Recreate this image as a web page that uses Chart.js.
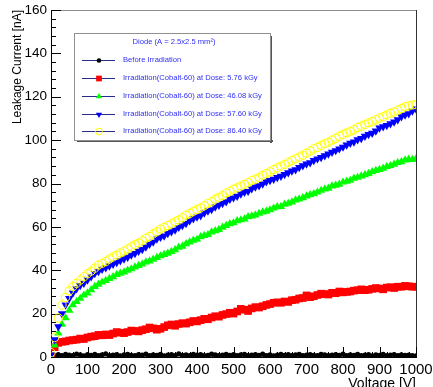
<!DOCTYPE html>
<html>
<head>
<meta charset="utf-8">
<script src="https://cdn.jsdelivr.net/npm/chart.js@4/dist/chart.umd.min.js"></script>
<style>
  html, body { margin: 0; padding: 0; background: #ffffff; }
  canvas { display: block; }
</style>
</head>
<body>
<canvas id="c" width="433" height="387"></canvas>
<script>
// Bias voltage [V]
const voltage = [
  0, 10, 20, 30, 40, 50, 60, 70, 80, 90,
  100, 110, 120, 130, 140, 150, 160, 170, 180, 190,
  200, 210, 220, 230, 240, 250, 260, 270, 280, 290,
  300, 310, 320, 330, 340, 350, 360, 370, 380, 390,
  400, 410, 420, 430, 440, 450, 460, 470, 480, 490,
  500, 510, 520, 530, 540, 550, 560, 570, 580, 590,
  600, 610, 620, 630, 640, 650, 660, 670, 680, 690,
  700, 710, 720, 730, 740, 750, 760, 770, 780, 790,
  800, 810, 820, 830, 840, 850, 860, 870, 880, 890,
  900, 910, 920, 930, 940, 950, 960, 970, 980, 990,
  1000
];

// Leakage current [nA] before irradiation
const currentBefore = [
  0.2, 0.8, 1.1, 0.6, 1.2, 0.9, 0.7, 1.3, 1.0, 0.5,
  1.1, 0.8, 1.2, 0.6, 1.0, 1.4, 0.7, 0.9, 1.1, 0.5,
  1.0, 1.2, 0.8, 0.6, 1.1, 0.9, 1.3, 0.7, 1.0, 0.8,
  1.2, 0.5, 0.9, 1.1, 0.7, 1.4, 0.8, 1.0, 0.6, 1.2,
  0.9, 1.1, 0.7, 0.8, 1.3, 1.0, 0.6, 0.9, 1.2, 0.8,
  1.1, 0.7, 1.0, 1.2, 0.6, 0.9, 1.1, 0.8, 1.3, 0.7,
  1.0, 0.5, 0.9, 1.2, 0.8, 1.1, 0.6, 1.0, 1.2, 0.7,
  0.9, 1.1, 0.8, 0.6, 1.2, 1.0, 0.7, 0.9, 1.1, 0.8,
  1.3, 0.6, 1.0, 0.8, 1.2, 0.7, 0.9, 1.1, 0.5, 1.0,
  0.8, 1.2, 0.7, 0.9, 1.1, 0.6, 1.0, 0.8, 0.9, 0.7,
  0.5
];

// Leakage current [nA] after 5.76 kGy
const currentDose576 = [
  0.3, 4.5, 6.5, 7.0, 7.2, 7.6, 7.8, 8.0, 8.5, 8.3,
  9.0, 9.4, 9.6, 10.2, 10.0, 10.4, 10.1, 10.8, 11.5, 11.2,
  11.0, 11.5, 12.2, 12.0, 11.8, 12.4, 12.8, 13.6, 13.2, 12.6,
  13.0, 13.8, 14.6, 15.0, 14.4, 15.2, 15.6, 15.4, 16.0, 16.6,
  16.4, 17.0, 17.6, 17.4, 18.2, 18.8, 18.6, 19.4, 19.8, 20.4,
  20.0, 21.0, 22.2, 21.8, 21.2, 22.4, 23.0, 22.8, 23.4, 24.0,
  24.4, 25.0, 25.2, 25.0, 25.6, 25.4, 26.2, 26.4, 27.0, 27.2,
  28.4, 27.6, 28.0, 28.6, 29.2, 29.0, 28.8, 29.6, 29.4, 30.2,
  29.8, 30.0, 30.2, 30.6, 30.8, 31.2, 30.8, 31.0, 31.4, 31.8,
  31.6, 31.2, 32.0, 32.2, 31.8, 32.4, 32.4, 32.8, 32.6, 32.4,
  32.4
];

// Leakage current [nA] after 46.08 kGy
const currentDose4608 = [
  0.5, 5.5, 11.0, 15.0, 18.0, 21.5, 24.0, 25.5, 27.0, 28.5,
  29.5, 31.0, 32.5, 33.5, 34.5, 35.2, 36.2, 37.0, 38.0, 38.6,
  39.2, 40.0, 40.6, 41.5, 42.2, 42.8, 43.8, 44.2, 45.0, 45.8,
  46.6, 47.2, 47.8, 48.6, 49.4, 50.6, 51.0, 52.2, 53.0, 53.8,
  54.2, 55.4, 56.0, 56.4, 57.6, 58.2, 58.8, 59.8, 60.6, 61.4,
  61.8, 62.8, 63.2, 63.6, 64.6, 65.0, 65.4, 66.2, 66.8, 67.2,
  67.8, 68.6, 69.2, 69.4, 70.4, 70.8, 71.4, 72.4, 72.8, 73.4,
  74.2, 74.8, 75.2, 76.0, 76.8, 77.4, 77.8, 78.8, 79.2, 79.6,
  80.6, 81.0, 81.4, 82.4, 82.8, 83.4, 84.0, 84.6, 85.4, 86.0,
  86.4, 87.0, 87.8, 88.2, 88.8, 89.6, 90.0, 90.8, 91.2, 91.0,
  91.4
];

// Leakage current [nA] after 57.60 kGy
const currentDose5760 = [
  1.0, 8.0, 14.0, 20.0, 24.0, 27.0, 29.5, 31.5, 33.0, 34.0,
  35.5, 37.0, 38.5, 39.5, 40.5, 41.2, 42.0, 42.8, 43.6, 44.4,
  45.2, 46.0, 47.0, 47.8, 48.8, 49.6, 50.8, 52.0, 53.0, 54.4,
  55.2, 55.8, 57.0, 57.8, 58.6, 59.8, 60.6, 61.6, 62.8, 63.8,
  64.6, 65.2, 66.4, 67.4, 68.0, 69.2, 70.0, 70.8, 71.6, 72.8,
  73.4, 74.2, 75.2, 76.0, 76.4, 77.6, 78.4, 79.0, 79.8, 80.8,
  81.4, 82.0, 82.8, 83.4, 84.2, 85.0, 85.8, 86.4, 87.4, 88.2,
  89.0, 89.6, 90.6, 91.4, 92.0, 92.8, 93.6, 94.4, 95.2, 96.0,
  96.8, 97.8, 98.6, 99.2, 100.2, 100.8, 101.8, 102.6, 103.2, 104.2,
  105.6, 106.2, 106.8, 107.6, 108.4, 109.4, 110.8, 111.6, 112.2, 113.4,
  114.4
];

// Leakage current [nA] after 86.40 kGy
const currentDose8640 = [
  2.0, 9.0, 18.0, 24.0, 27.5, 30.5, 32.5, 34.0, 35.5, 37.0,
  38.4, 39.6, 41.0, 42.4, 43.2, 44.0, 45.2, 46.2, 47.0, 48.0,
  48.8, 49.8, 50.8, 51.8, 52.6, 53.6, 54.8, 55.6, 56.8, 57.8,
  59.0, 59.8, 60.6, 61.4, 62.4, 63.2, 64.2, 65.4, 66.2, 67.2,
  68.0, 68.8, 69.8, 70.8, 71.6, 72.8, 73.6, 74.4, 75.6, 76.4,
  77.4, 78.0, 78.8, 79.6, 80.4, 81.4, 82.0, 82.8, 83.8, 84.6,
  85.4, 86.4, 87.2, 88.0, 88.8, 89.8, 90.6, 91.4, 92.2, 93.0,
  94.0, 95.0, 96.0, 96.6, 97.6, 98.4, 99.0, 100.0, 100.8, 101.8,
  102.6, 103.4, 104.0, 104.8, 105.8, 106.4, 107.2, 108.0, 108.6, 109.4,
  110.2, 110.8, 111.6, 112.4, 113.0, 113.8, 114.6, 115.4, 115.8, 116.2,
  116.4
];

const seriesLabels = [
  'Before Irradiation',
  'Irradiation(Cobalt-60) at Dose: 5.76 kGy',
  'Irradiation(Cobalt-60) at Dose: 46.08 kGy',
  'Irradiation(Cobalt-60) at Dose: 57.60 kGy',
  'Irradiation(Cobalt-60) at Dose: 86.40 kGy'
];
const legendTitle = 'Diode (A = 2.5x2.5 mm\u00B2)';
const xTickValues = [0, 100, 200, 300, 400, 500, 600, 700, 800, 900, 1000];
const yTickValues = [0, 20, 40, 60, 80, 100, 120, 140, 160];
const xTitle = 'Voltage [V]';
const yTitle = 'Leakage Current [nA]';

const FONT = '"Liberation Sans", Arial, Helvetica, sans-serif';
const LEGEND_TEXT = '#2f2ff5';

const toPoints = (ys) => voltage.map((v, i) => ({ x: v, y: ys[i] }));

const datasets = [
  { label: seriesLabels[0], data: toPoints(currentBefore), order: 5,
    pointStyle: 'circle', pointRadius: 2.6, pointBackgroundColor: '#000000',
    pointBorderColor: '#000000', pointBorderWidth: 0, legendScale: 0.9 },
  { label: seriesLabels[1], data: toPoints(currentDose576), order: 4,
    pointStyle: 'rect', pointRadius: 5.4, pointBackgroundColor: '#ff0000',
    pointBorderColor: '#ff0000', pointBorderWidth: 0, legendScale: 0.75 },
  { label: seriesLabels[2], data: toPoints(currentDose4608), order: 3,
    pointStyle: 'triangle', pointRadius: 4.8, pointBackgroundColor: '#00ff00',
    pointBorderColor: '#00ff00', pointBorderWidth: 0, legendScale: 0.75 },
  { label: seriesLabels[3], data: toPoints(currentDose5760), order: 2,
    pointStyle: 'triangle', pointRotation: 180, pointRadius: 4.8, pointBackgroundColor: '#0000ff',
    pointBorderColor: '#0000ff', pointBorderWidth: 0, legendScale: 0.75 },
  { label: seriesLabels[4], data: toPoints(currentDose8640), order: 1,
    pointStyle: 'circle', pointRadius: 4.2, pointBackgroundColor: 'rgba(0,0,0,0)',
    pointBorderColor: '#ffff00', pointBorderWidth: 1, legendScale: 0.8 }
];

// Frame, axis lines, inward tick marks, axis titles and the boxed legend
const axesPlugin = {
  id: 'axesPlugin',
  beforeDatasetsDraw(chart) {
    const { ctx, chartArea: a, scales: { x, y } } = chart;
    ctx.save();
    ctx.lineWidth = 1;
    ctx.strokeStyle = '#8c8c8c';
    ctx.beginPath();
    ctx.moveTo(a.left, a.top + 0.5);
    ctx.lineTo(a.right + 1, a.top + 0.5);
    ctx.stroke();
    ctx.strokeStyle = '#333333';
    ctx.beginPath();
    ctx.moveTo(a.right + 0.5, a.top);
    ctx.lineTo(a.right + 0.5, a.bottom);
    ctx.stroke();

    ctx.strokeStyle = '#000000';
    ctx.beginPath();
    ctx.moveTo(a.left + 0.5, a.top);
    ctx.lineTo(a.left + 0.5, a.bottom + 0.5);
    ctx.lineTo(a.right + 1, a.bottom + 0.5);
    for (let v = x.min; v <= x.max; v += 20) {
      const px = Math.round(x.getPixelForValue(v)) + 0.5;
      const len = (v % 100 === 0) ? 10 : 5;
      ctx.moveTo(px, a.bottom);
      ctx.lineTo(px, a.bottom - len);
    }
    for (let v = y.min; v <= y.max; v += 4) {
      const py = Math.round(y.getPixelForValue(v)) + 0.5;
      const len = (v % 20 === 0) ? 10 : 5;
      ctx.moveTo(a.left, py);
      ctx.lineTo(a.left + len, py);
    }
    ctx.stroke();
    ctx.restore();
  },
  afterDraw(chart) {
    const { ctx, chartArea: a } = chart;
    ctx.save();
    ctx.fillStyle = '#000000';
    ctx.font = '14px ' + FONT;
    ctx.textAlign = 'right';
    ctx.textBaseline = 'alphabetic';
    ctx.fillText(xTitle, a.right, 388);

    ctx.font = '12px ' + FONT;
    ctx.translate(21, a.top);
    ctx.rotate(-Math.PI / 2);
    ctx.textAlign = 'right';
    ctx.fillText(yTitle, 0, 0);
    ctx.restore();

    const L = 74, T = 33, R = 270, B = 140;
    ctx.save();
    ctx.fillStyle = '#ffffff';
    ctx.fillRect(L, T, R - L, B - T);
    ctx.fillStyle = '#555555';
    ctx.fillRect(R, T + 3, 2, B - T);
    ctx.fillRect(L + 3, B, R - L, 2);
    ctx.strokeStyle = '#909090';
    ctx.lineWidth = 1;
    ctx.strokeRect(L + 0.5, T + 0.5, R - L, B - T);

    ctx.fillStyle = LEGEND_TEXT;
    ctx.font = '7.6px ' + FONT;
    ctx.textAlign = 'center';
    ctx.textBaseline = 'middle';
    ctx.fillText(legendTitle, 174, 42);

    const rowY = [60, 78, 96, 113.5, 131];
    chart.data.datasets.forEach((ds, i) => {
      const yy = Math.round(rowY[i]) + 0.5;
      ctx.strokeStyle = '#2a2a8c';
      ctx.lineWidth = 1;
      ctx.beginPath();
      ctx.moveTo(82, yy);
      ctx.lineTo(115, yy);
      ctx.stroke();
      ctx.fillStyle = ds.pointBackgroundColor;
      ctx.strokeStyle = ds.pointBorderColor;
      ctx.lineWidth = ds.pointBorderWidth || 0;
      Chart.helpers.drawPoint(ctx, {
        pointStyle: ds.pointStyle,
        rotation: ds.pointRotation || 0,
        radius: ds.pointRadius * ds.legendScale,
        borderWidth: ds.pointBorderWidth || 0
      }, 99, yy);
      ctx.fillStyle = LEGEND_TEXT;
      ctx.font = '7.6px ' + FONT;
      ctx.textAlign = 'left';
      ctx.textBaseline = 'middle';
      ctx.fillText(ds.label, 123, rowY[i]);
    });
    ctx.restore();
  }
};

new Chart(document.getElementById('c'), {
  type: 'scatter',
  data: { datasets },
  options: {
    responsive: false,
    devicePixelRatio: 1,
    animation: false,
    layout: { padding: { top: 10, right: 17, left: 0, bottom: 0 } },
    plugins: { legend: { display: false }, tooltip: { enabled: false } },
    showLine: false,
    scales: {
      x: {
        type: 'linear', min: 0, max: 1000,
        grid: { display: false, drawTicks: false },
        border: { display: false },
        afterBuildTicks: (s) => { s.ticks = xTickValues.map(v => ({ value: v })); },
        afterFit: (s) => { s.height = 30; s.paddingLeft = 0; s.paddingRight = 0; },
        ticks: { color: '#000000', padding: 4, maxRotation: 0, autoSkip: false,
                 callback: (v) => String(v),
                 font: { family: FONT, size: 15 } }
      },
      y: {
        type: 'linear', min: 0, max: 160,
        grid: { display: false, drawTicks: false },
        border: { display: false },
        afterBuildTicks: (s) => { s.ticks = yTickValues.map(v => ({ value: v })); },
        afterFit: (s) => { s.width = 51; s.paddingTop = 0; s.paddingBottom = 0; },
        ticks: { color: '#000000', padding: 4, autoSkip: false,
                 callback: (v) => String(v),
                 font: { family: FONT, size: 13.5 } }
      }
    }
  },
  plugins: [axesPlugin]
});
</script>
</body>
</html>
